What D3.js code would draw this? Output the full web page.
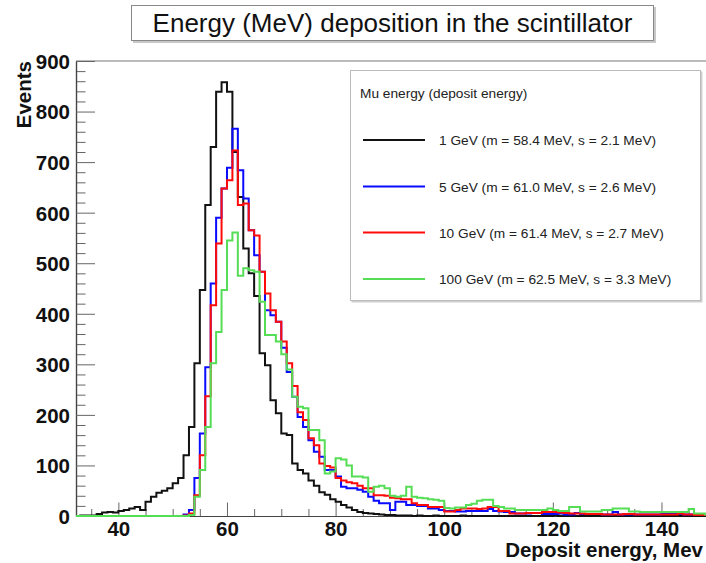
<!DOCTYPE html>
<html><head><meta charset="utf-8">
<script src="https://cdn.jsdelivr.net/npm/d3@7"></script>
<style>
body{margin:0;background:#fff}
svg text{font-family:"Liberation Sans",Arial,Helvetica,sans-serif}
</style>
</head><body>
<svg id="chart" width="706" height="563"></svg>
<script>
// ---- data (bins of 1 MeV, left edge of first bin = 32) ----
const binStart = 32;
const binWidth = 1;
const gev1 = [0,1,1,1,4,7,8,7,10,12,15,18,12,28,38,46,50,55,65,75,
  120,176,302,447,615,730,839,858,839,720,631,529,480,435,322,298,229,203,163,160,
  104,91,84,70,60,47,42,33,28,22,17,12,8,6,5,4,3,2,2,1,
  1,1,0,1,0,0,1,0,0,0,0,1,0,0,0,0,0,0,0,0,
  0,0,0,0,0,0,0,0,1,0,0,0,0,0,0,0,0,0,0,0,
  0,0,0,0,0,0,0,0,0,0,0,0,0,0,0,0,0];
const gev5 = [0,0,0,0,0,0,0,0,0,0,0,0,0,0,0,0,0,0,0,0,
  3,12,75,163,294,460,590,648,689,766,684,628,565,516,483,407,397,384,333,285,
  236,196,176,150,127,117,91,91,78,58,55,55,52,48,38,30,25,25,12,28,
  28,22,22,20,20,15,15,12,10,10,9,9,10,10,10,10,14,10,9,8,
  8,5,5,5,6,6,4,4,4,5,3,3,6,4,4,4,4,3,3,8,
  3,3,3,3,3,3,3,3,5,6,4,4,3,3,3,3,3];
const gev10 = [0,0,0,0,0,0,0,0,0,0,0,0,0,0,0,0,0,0,0,0,
  1,5,41,120,237,417,539,648,664,723,615,618,565,555,483,440,407,384,345,302,
  257,205,190,154,140,104,99,96,75,70,67,65,60,55,55,41,41,40,36,35,
  33,33,25,22,22,18,18,18,9,9,12,15,15,15,14,15,18,18,10,10,
  5,5,5,6,6,6,8,8,8,7,6,5,5,5,4,4,4,3,3,3,
  3,4,4,3,3,3,3,3,3,3,3,5,3,3,2,2,2];
const gev100 = [0,0,0,0,0,0,0,0,0,0,0,0,0,0,0,0,0,0,0,0,
  0,2,38,91,176,302,364,447,545,561,475,490,486,483,424,358,358,345,320,290,
  236,216,213,170,170,150,84,88,114,112,100,78,78,76,48,58,60,55,40,38,
  40,58,38,36,35,33,32,30,16,15,17,17,22,24,30,32,32,20,18,15,
  15,12,12,12,12,12,12,15,12,10,10,18,18,9,9,9,9,12,12,15,
  15,15,9,9,8,8,8,8,8,8,8,8,8,14,5,5,3];

const seriesData = [gev1, gev5, gev10, gev100];
const seriesLabels = [
  "1 GeV (m = 58.4 MeV, s = 2.1 MeV)",
  "5 GeV (m = 61.0 MeV, s = 2.6 MeV)",
  "10 GeV (m = 61.4 MeV, s = 2.7 MeV)",
  "100 GeV (m = 62.5 MeV, s = 3.3 MeV)"
];
const seriesColors = ["#111111", "#0a0aff", "#ff0a0a", "#55dd55"];

const xMajorTicks = [40, 60, 80, 100, 120, 140];
const yMajorTicks = [0, 100, 200, 300, 400, 500, 600, 700, 800, 900];
const titleText = "Energy (MeV) deposition in the scintillator";
const legendTitle = "Mu energy (deposit energy)";
const xTitle = "Deposit energy, Mev";
const yTitle = "Events";

// ---- layout ----
const svg = d3.select("#chart");
const plot = {left: 76, right: 706, top: 61, bottom: 516};
const x = d3.scaleLinear().domain([32.2, 148.2]).range([plot.left, plot.right]);
const y = d3.scaleLinear().domain([0, 900]).range([plot.bottom, plot.top]);

svg.append("rect").attr("width", 706).attr("height", 563).attr("fill", "#fff");

svg.append("clipPath").attr("id", "clip").append("rect")
  .attr("x", plot.left).attr("y", plot.top - 2)
  .attr("width", plot.right - plot.left).attr("height", plot.bottom - plot.top + 3);

// frame top line
svg.append("line").attr("x1", plot.left).attr("x2", plot.right)
  .attr("y1", plot.top).attr("y2", plot.top)
  .attr("stroke", "#777").attr("stroke-width", 1.2);

// axes
const minorX = d3.range(35, 150, 5).filter(v => v % 20 !== 0);
const minorY = d3.range(0, 901, 20).filter(v => v % 100 !== 0);

const xAxisMajor = d3.axisBottom(x).tickValues(xMajorTicks).tickSizeInner(-13.5).tickSizeOuter(0).tickPadding(8);
const xAxisMinor = d3.axisBottom(x).tickValues(minorX).tickSizeInner(-7).tickSizeOuter(0).tickFormat("");
const yAxisMajor = d3.axisLeft(y).tickValues(yMajorTicks).tickSizeInner(-19).tickSizeOuter(0).tickPadding(6);
const yAxisMinor = d3.axisLeft(y).tickValues(minorY).tickSizeInner(-9.5).tickSizeOuter(0).tickFormat("");

function styleAxis(g) {
  g.selectAll("path").attr("stroke", "#444").attr("stroke-width", 1.2);
  g.selectAll("line").attr("stroke", "#666").attr("stroke-width", 1);
  g.selectAll("text").attr("font-size", 20.5).attr("font-weight", "bold")
    .attr("fill", "#111").style("font-family", '"Liberation Sans",Arial,sans-serif');
}
const gx1 = svg.append("g").attr("transform", `translate(0,${plot.bottom})`).call(xAxisMinor); styleAxis(gx1);
const gx2 = svg.append("g").attr("transform", `translate(0,${plot.bottom})`).call(xAxisMajor); styleAxis(gx2);
gx2.selectAll("text").attr("dy", "0.7em").attr("y", 6);
const gy1 = svg.append("g").attr("transform", `translate(${plot.left},0)`).call(yAxisMinor); styleAxis(gy1);
const gy2 = svg.append("g").attr("transform", `translate(${plot.left},0)`).call(yAxisMajor); styleAxis(gy2);
gy2.selectAll("text").attr("dy", "0.36em");

// histograms (drawn over the axes, as in the reference)
const line = d3.line().curve(d3.curveStepAfter).x(d => x(d[0])).y(d => y(d[1]));
const gH = svg.append("g").attr("clip-path", "url(#clip)");
seriesData.forEach((vals, i) => {
  const pts = [[binStart, 0]];
  vals.forEach((v, k) => pts.push([binStart + k * binWidth, v]));
  pts.push([binStart + vals.length * binWidth, vals[vals.length - 1]]);
  pts.push([binStart + vals.length * binWidth, 0]);
  gH.append("path").attr("d", line(pts))
    .attr("fill", "none").attr("stroke", seriesColors[i])
    .attr("stroke-width", 2).attr("stroke-linejoin", "miter");
});

// axis titles
svg.append("text").text(xTitle)
  .attr("x", 703).attr("y", 557).attr("text-anchor", "end")
  .attr("font-size", 20.5).attr("font-weight", "bold").attr("fill", "#111");
svg.append("text").text(yTitle)
  .attr("transform", "translate(31,61) rotate(-90)").attr("text-anchor", "end")
  .attr("font-size", 20.5).attr("font-weight", "bold").attr("fill", "#111");

// title box
svg.append("rect").attr("x", 133).attr("y", 7).attr("width", 523).attr("height", 36).attr("fill", "#c8c8c8");
svg.append("rect").attr("x", 131.5).attr("y", 5.5).attr("width", 522).attr("height", 35)
  .attr("fill", "#fff").attr("stroke", "#888").attr("stroke-width", 1);
svg.append("text").text(titleText).attr("x", 392.5).attr("y", 32)
  .attr("text-anchor", "middle").attr("font-size", 26).attr("fill", "#111");

// legend
const lg = svg.append("g");
lg.append("rect").attr("x", 351.5).attr("y", 71.5).attr("width", 351).attr("height", 231).attr("fill", "#d0d0d0");
lg.append("rect").attr("x", 350.5).attr("y", 70.5).attr("width", 350).attr("height", 230)
  .attr("fill", "#fff").attr("stroke", "#bbb").attr("stroke-width", 1);
lg.append("text").text(legendTitle).attr("x", 360).attr("y", 98)
  .attr("font-size", 13.7).attr("fill", "#222");
const rowY = [140, 186.5, 232.5, 279];
seriesLabels.forEach((lab, i) => {
  lg.append("line").attr("x1", 363).attr("x2", 425).attr("y1", rowY[i]).attr("y2", rowY[i])
    .attr("stroke", seriesColors[i]).attr("stroke-width", 1.8);
  lg.append("text").text(lab).attr("x", 439).attr("y", rowY[i] + 5)
    .attr("font-size", 13.7).attr("fill", "#222");
});
</script>
</body></html>
